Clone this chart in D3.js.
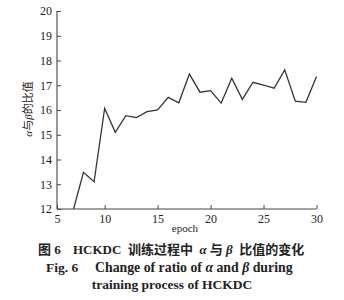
<!DOCTYPE html>
<html>
<head>
<meta charset="utf-8">
<script src="https://cdn.jsdelivr.net/npm/d3@7"></script>
<style>
  body { margin: 0; background: #fff; }
  svg { display: block; }
</style>
</head>
<body>
<svg id="chart" width="344" height="300"></svg>
<script>
const epochs = [7, 8, 9, 10, 11, 12, 13, 14, 15, 16, 17, 18, 19, 20, 21, 22, 23, 24, 25, 26, 27, 28, 29, 30];
const ratios = [11.9, 13.48, 13.1, 16.07, 15.1, 15.77, 15.69, 15.93, 16.0, 16.51, 16.29, 17.45, 16.72, 16.78,
                16.28, 17.28, 16.43, 17.12, 17.01, 16.88, 17.62, 16.36, 16.31, 17.35];
const xTicks = [5.5, 10, 15, 20, 25, 30];
const yTicks = [12, 13, 14, 15, 16, 17, 18, 19, 20];

const FONT = "'Liberation Serif', 'Noto Sans CJK SC', serif";
const svg = d3.select("#chart");

const x = d3.scaleLinear().domain([5.5, 30]).range([57, 316.5]);
const y = d3.scaleLinear().domain([12, 20]).range([209, 11]);

svg.append("clipPath").attr("id", "clip")
   .append("rect").attr("x", 57).attr("y", 11).attr("width", 260).attr("height", 198);

// line
const line = d3.line().x((d, i) => x(epochs[i])).y(d => y(d));
svg.append("path")
   .datum(ratios)
   .attr("clip-path", "url(#clip)")
   .attr("fill", "none")
   .attr("stroke", "#333")
   .attr("stroke-width", 1.3)
   .attr("d", line);

// axes, ticks point inward
const xAxis = svg.append("g")
   .attr("transform", "translate(0,209)")
   .call(d3.axisBottom(x).tickValues(xTicks).tickSize(-4).tickPadding(5)
          .tickFormat(d => Math.floor(d)));
const yAxis = svg.append("g")
   .attr("transform", "translate(57,0)")
   .call(d3.axisLeft(y).tickValues(yTicks).tickSize(-4).tickPadding(5));

[xAxis, yAxis].forEach(g => {
  g.style("font-family", FONT);
  g.select(".domain").attr("stroke", "#444").attr("stroke-width", 1.1);
  g.selectAll(".tick line").attr("stroke", "#444");
  g.selectAll(".tick text").style("font-family", FONT).style("font-size", "12px").attr("fill", "#222");
});
xAxis.select(".domain").attr("d", "M57,0H316.5");
yAxis.select(".domain").attr("d", "M0,209V11");

function txt(xp, yp, size, bold, anchor) {
  return svg.append("text")
    .attr("x", xp).attr("y", yp)
    .attr("text-anchor", anchor || "middle")
    .attr("fill", "#222")
    .style("font-family", FONT)
    .style("font-size", size + "px")
    .style("font-weight", bold ? "bold" : "normal");
}

// axis titles
txt(185, 232, 11, false).text("epoch");

const yt = txt(0, 0, 11, false).attr("transform", "translate(32,109) rotate(-90)");
yt.append("tspan").style("font-style", "italic").text("α");
yt.append("tspan").text("与");
yt.append("tspan").style("font-style", "italic").text("β");
yt.append("tspan").text("的比值");

// caption
txt(38, 254, 13, true, "start").text("图 6");
const cap1 = txt(73, 254, 13, true, "start");
cap1.append("tspan").text("HCKDC\u2002训练过程中\u2002");
cap1.append("tspan").style("font-style", "italic").text("α");
cap1.append("tspan").text(" 与 ");
cap1.append("tspan").style("font-style", "italic").text("β");
cap1.append("tspan").text("\u2002比值的变化");

txt(46, 272, 13.5, true, "start").text("Fig. 6");
const cap2 = txt(95, 272, 13.8, true, "start");
cap2.append("tspan").text("Change of ratio of ");
cap2.append("tspan").style("font-style", "italic").text("α");
cap2.append("tspan").text(" and ");
cap2.append("tspan").style("font-style", "italic").text("β");
cap2.append("tspan").text(" during");

txt(172, 289, 13.5, true).text("training process of HCKDC");
</script>
</body>
</html>
